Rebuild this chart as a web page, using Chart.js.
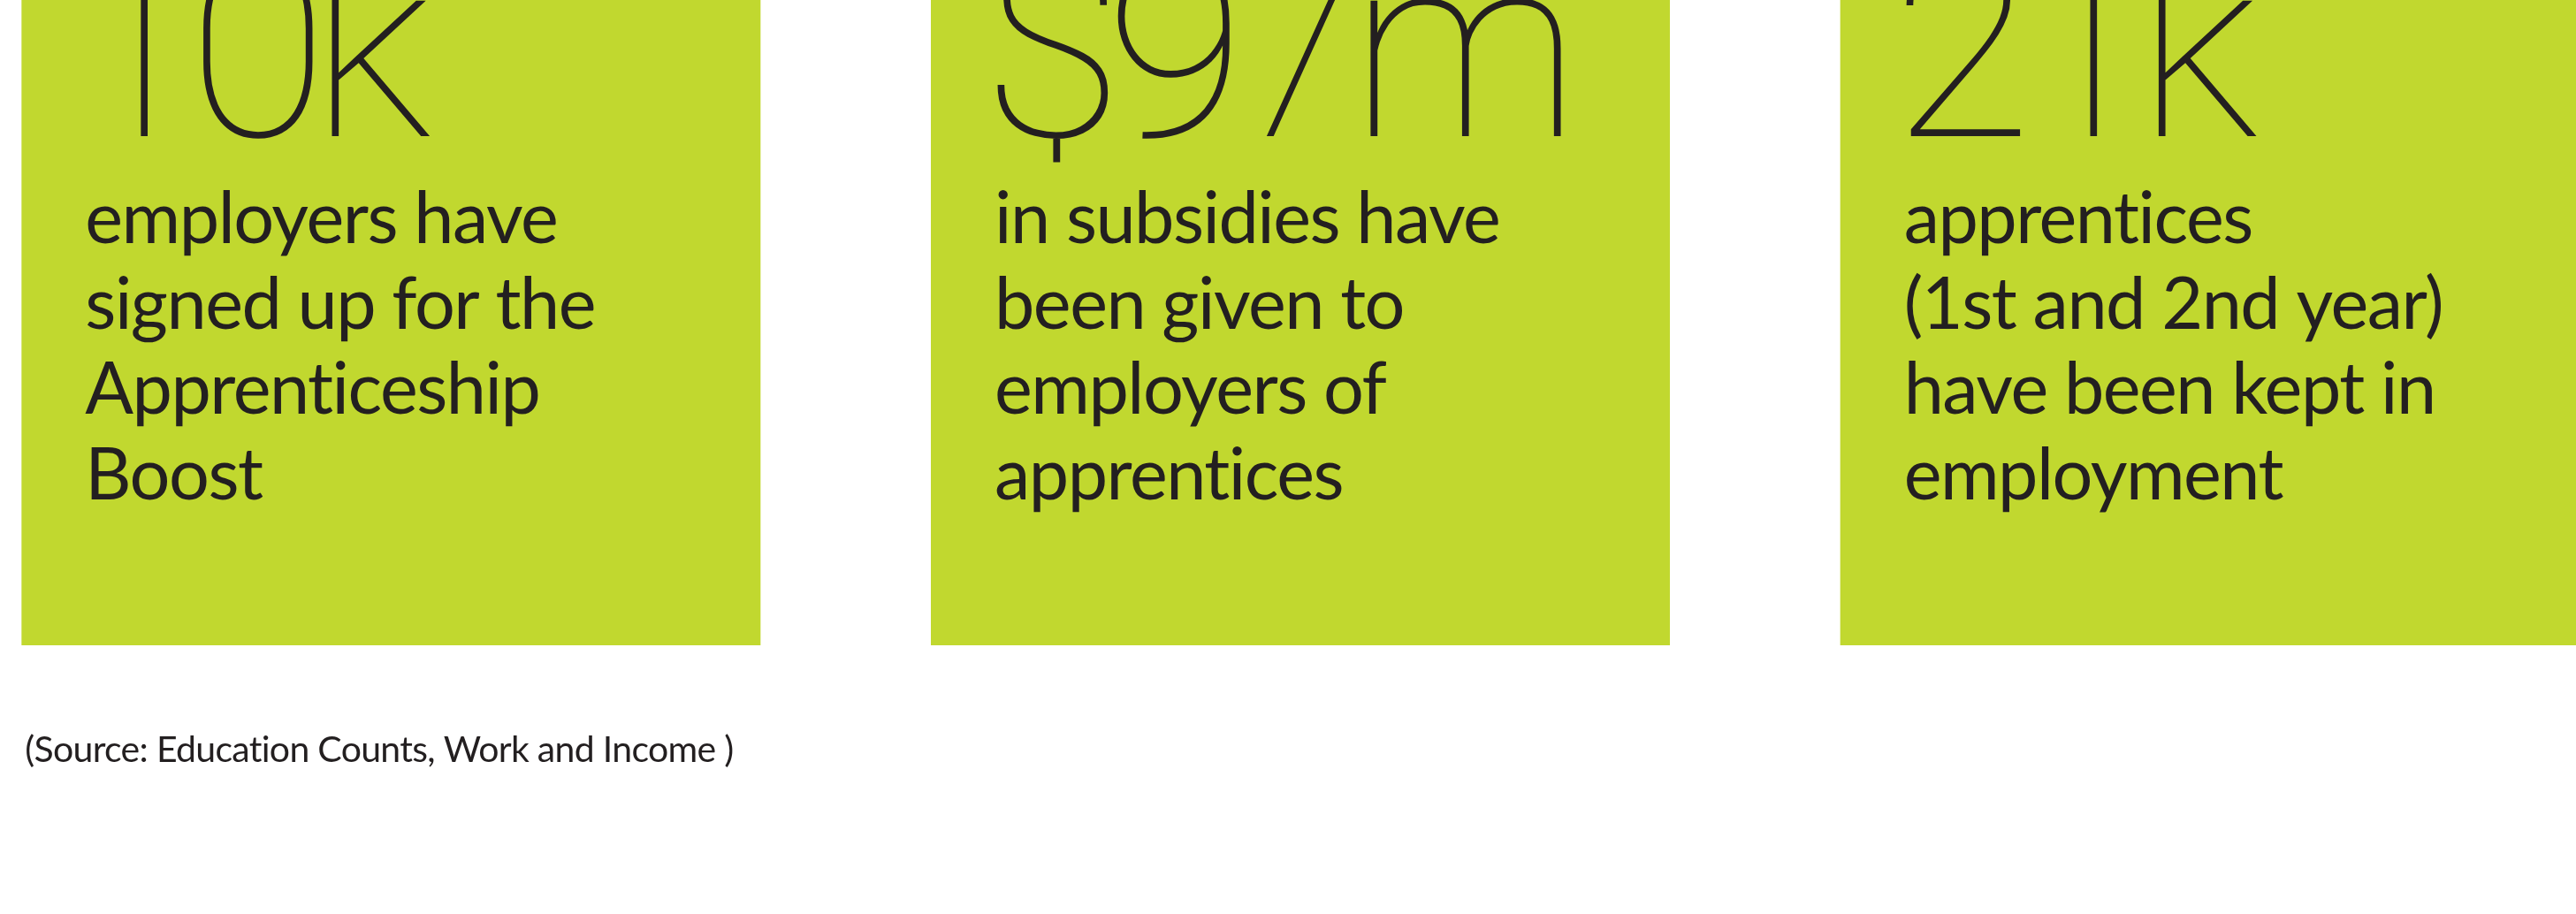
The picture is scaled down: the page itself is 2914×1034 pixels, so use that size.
<!DOCTYPE html>
<html>
<head>
<meta charset="utf-8">
<script src="https://cdn.jsdelivr.net/npm/chart.js@4.4.0/dist/chart.umd.min.js"></script>
<style>
  html, body { margin: 0; padding: 0; background: #fff; overflow: hidden; width: 2914px; height: 1034px; }
  #wrap { position: absolute; left: -72px; top: 0; width: 3086px; height: 1034px; }
</style>
</head>
<body>
<div id="wrap"><canvas id="statsChart"></canvas></div>
<script>
// Les trois chiffres clés
const categories = ['Employers', 'Subsidies', 'Apprentices'];
const figures = ['10k', '$97m', '21k'];
const captions = [
    ['employers have', 'signed up for the', 'Apprenticeship', 'Boost'],
    ['in subsidies have', 'been given to', 'employers of', 'apprentices'],
    ['apprentices', '(1st and 2nd year)', 'have been kept in', 'employment']
];
// chaque tuile a la même hauteur
const tileValues = [1, 1, 1];
const sourceNote = '(Source: Education Counts, Work and Income )';

const green = '#c1d82f';
const ink = '#231f20';

// Dessine les chiffres et textes dans chaque tuile
const tileText = {
    id: 'tileText',
    afterDatasetsDraw(chart) {
        const c = chart.ctx;
        const top = chart.chartArea.top;
        const bars = chart.getDatasetMeta(0).data;
        c.save();
        c.fillStyle = ink;
        c.textAlign = 'left';
        c.textBaseline = 'alphabetic';
        bars.forEach((bar, i) => {
            const left = bar.x - bar.width / 2;
            const x = left + 72;
            // gros chiffre : on aligne le bord de l'encre sur le texte
            c.font = '100 290px Roboto';
            c.letterSpacing = '-20px';
            const m = c.measureText(figures[i]);
            c.fillText(figures[i], x + m.actualBoundingBoxLeft, top + 154);
            c.font = '400 81px Lato';
            c.letterSpacing = '-1.5px';
            captions[i].forEach((line, j) => {
                c.fillText(line, x, top + 275 + j * 96.5);
            });
        });
        const first = bars[0];
        c.font = '400 41px Lato';
        c.letterSpacing = '-0.7px';
        c.fillText(sourceNote, first.x - first.width / 2 + 4, top + 862);
        c.restore();
    }
};

new Chart(document.getElementById('statsChart'), {
    type: 'bar',
    data: {
        labels: categories,
        datasets: [{
            data: tileValues,
            backgroundColor: green,
            borderWidth: 0,
            barPercentage: 0.8127,
            categoryPercentage: 1
        }]
    },
    options: {
        responsive: true,
        maintainAspectRatio: false,
        animation: false,
        layout: { padding: { top: 0, bottom: 304, left: 0, right: 0 } },
        scales: {
            x: { display: false },
            y: { display: false, min: 0, max: 1 }
        },
        plugins: {
            legend: { display: false },
            tooltip: { enabled: false }
        }
    },
    plugins: [tileText]
});
</script>
</body>
</html>
